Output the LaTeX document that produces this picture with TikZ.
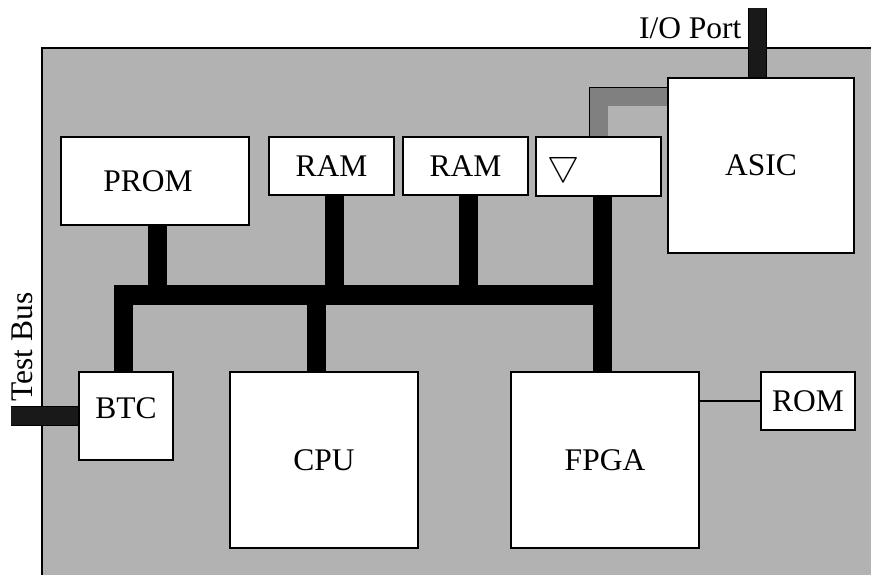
\documentclass[tikz,border=0pt]{standalone}
\usepackage{fontspec}
\setmainfont{Liberation Serif}
\definecolor{board}{gray}{0.7}
\definecolor{linkgray}{gray}{0.5}
\definecolor{portblack}{gray}{0.1}
\tikzset{
    unit/.style={draw, fill=white, line width=1.2pt, inner sep=0pt,
        font=\fontsize{31.5}{36}\selectfont},
    bus/.style={line width=19.5pt, line join=miter},
    link/.style={line width=18.5pt, linkgray, line join=miter},
    port/.style={line width=1.2pt, double=portblack, double distance=17.5pt},
}
\begin{document}
\begin{tikzpicture}[x=1pt,y=-1pt]
        \useasboundingbox (0,0) rectangle (871,574);
        \draw[fill=board, line width=1.5pt] (42,48) rectangle (880,580);
        % boards parts
        \node[unit, minimum width=188, minimum height=88] (prom) at (155,181) {PROM\hspace*{14pt}};
        \node[unit, minimum width=125, minimum height=58] (ram1) at (331.5,166) {RAM};
        \node[unit, minimum width=125, minimum height=58] (ram2) at (465.5,166) {RAM};
        \node[unit, minimum width=125, minimum height=59] (tri) at (598.5,166.5) {\scalebox{1.45}{$\bigtriangledown$}\hspace*{70pt}};
        \node[unit, minimum width=186, minimum height=175] (asic) at (761,165.5) {ASIC};
        \node[unit, minimum width=94, minimum height=88, text depth=16pt] (btc) at (126,416) {BTC};
        \node[unit, minimum width=188, minimum height=176] (cpu) at (324,460) {CPU};
        \node[unit, minimum width=188, minimum height=176] (fpga) at (605,460) {FPGA};
        \node[unit, minimum width=94, minimum height=58] (rom) at (808,401) {ROM};
        % system bus
        \coordinate (bus end) at (602.5,295);
        \draw[bus] ([xshift=-2.5pt]btc.north) |- (bus end);
        \foreach \n/\a/\s in {prom/south/2.5,ram1/south/3,ram2/south/3,cpu/north/-7.5} {
            \draw[bus] ([xshift=\s pt]\n.\a) -- ([xshift=\s pt]\n.\a |- bus end);
        }
        \draw[bus] ([xshift=4pt]tri.south) -- ([xshift=-2.5pt]fpga.north);
        % link to ASIC
        \draw[link] (tri.north) |- ([yshift=-19.5pt]asic.north west);
        \draw[line width=1.2pt] ([xshift=-9.25pt]tri.north) |- ([yshift=-10pt]asic.north west);
        \draw[line width=1.2pt] (rom.west -| fpga.east) -- (rom.west);
        % ports
        \coordinate (io top) at (757.5,8);
        \coordinate (tb end) at (11,416);
        \draw[port] (io top) -- (io top |- asic.north);
        \draw[port] (tb end) -- (btc.west);
        \node[anchor=base east, font=\fontsize{31.5}{36}\selectfont] (io label) at (745,38) {I/O Port};
        \node[rotate=90, font=\fontsize{31.5}{36}\selectfont] (tb label) at (22,347) {Test Bus};
    \end{tikzpicture}
\end{document}
